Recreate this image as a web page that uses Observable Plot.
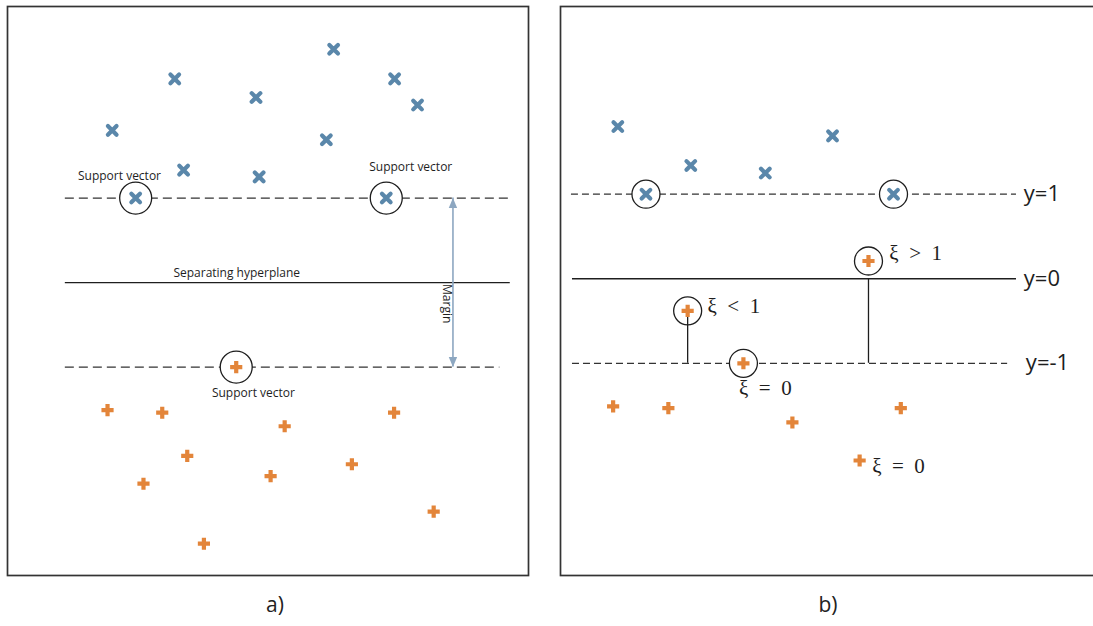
<!DOCTYPE html>
<html>
<head>
<meta charset="utf-8">
<script src="https://cdn.jsdelivr.net/npm/d3@7"></script>
<script src="https://cdn.jsdelivr.net/npm/@observablehq/plot@0.6"></script>
<style>
  html, body { margin: 0; padding: 0; background: #fff; overflow: hidden; }
  #wrap { position: relative; width: 1093px; height: 626px; overflow: hidden; background: #fff; }
  .panel { position: absolute; top: 0; }
  .tag { position: absolute; top: 590px; width: 60px; margin-left: -30px; text-align: center;
         font: 21px/28px "Open Sans", sans-serif; color: #222; }
</style>
</head>
<body>
<div id="wrap"></div>
<script>
// ---------- Panel a: hard-margin SVM ----------
// class +1 samples (blue crosses)
const aBlueX = [3.21, 4.77, 6.26, 7.43, 7.87, 2.01, 3.38, 4.83, 6.12, 2.46, 7.27];
const aBlueY = [2.41, 2.19, 2.76, 2.41, 2.10, 1.80, 1.33, 1.25, 1.69, 1.00, 1.00];
// class -1 samples (orange pluses)
const aOrangeX = [1.92, 2.97, 5.32, 7.42, 3.45, 2.61, 5.05, 6.61, 8.18, 3.77, 4.39];
const aOrangeY = [-1.51, -1.54, -1.70, -1.54, -2.05, -2.38, -2.29, -2.15, -2.71, -3.09, -1.00];
// support vectors (circled)
const aSupportX = [2.46, 7.27, 4.39];
const aSupportY = [1, 1, -1];
// "Support vector" captions
const aCaptionX = [2.15, 7.74, 4.72];
const aCaptionY = [1.26, 1.36, -1.31];
// hyperplane and the two margin boundaries
const aLevels = [1, 0, -1];
const aDashed = [true, false, true];
const aLineFrom = [1.11, 1.11, 1.11];
const aLineTo = [9.65, 9.65, 9.45];
const aMarginX = 8.55;

// ---------- Panel b: soft-margin SVM with slack variables ----------
const bBlueX = [1.10, 2.50, 3.93, 5.22, 1.64, 6.39];
const bBlueY = [1.80, 1.34, 1.25, 1.69, 1.00, 1.00];
const bOrangeX = [1.01, 2.07, 4.45, 6.53, 5.74, 2.44, 5.91, 3.51];
const bOrangeY = [-1.51, -1.53, -1.70, -1.53, -2.15, -0.38, 0.21, -1.00];
const bCircledX = [1.64, 6.39, 2.44, 5.91, 3.51];
const bCircledY = [1, 1, -0.38, 0.21, -1];
const bLevels = [1, 0, -1];
const bDashed = [true, false, true];
const bLineFrom = [0.21, 0.23, 0.23];
const bLineTo = [8.75, 8.75, 8.58];
const bLevelLabels = ["y=1", "y=0", "y=-1"];
const bLevelLabelX = [8.89, 8.89, 8.93];
// slack stems from the y=-1 boundary up to the violating samples
const bStemX = [2.44, 5.91];
const bStemTop = [-0.38, 0];
// slack annotations
const bSlackText = ["ξ\u2002>\u20021", "ξ\u2002<\u20021", "ξ\u2002=\u20020", "ξ\u2002=\u20020"];
const bSlackX = [6.31, 2.82, 3.93, 5.98];
const bSlackY = [0.30, -0.32, -1.29, -2.22];
const bSlackAnchor = ["start", "start", "middle", "start"];

const BLUE = "#5a87aa";
const ORANGE = "#e3853a";
const INK = "#1e1e1e";
const ARROW = "#8da7c1";

const pts = (xs, ys) => xs.map((x, i) => ({x, y: ys[i]}));
const lines = (levels, dashed, from, to) =>
  levels.map((y, i) => ({y, dashed: dashed[i], x1: from[i], x2: to[i]}));

// arrowheads with their tip at the anchor point
const headUp = {draw(ctx) { ctx.moveTo(0, 0); ctx.lineTo(-4.2, 10); ctx.lineTo(4.2, 10); ctx.closePath(); }};
const headDown = {draw(ctx) { ctx.moveTo(0, 0); ctx.lineTo(-4.2, -10); ctx.lineTo(4.2, -10); ctx.closePath(); }};

const labelFont = '"Open Sans", sans-serif';

function boundaryMarks(rows, dash) {
  return [
    Plot.ruleY(rows.filter(d => d.dashed), {y: "y", x1: "x1", x2: "x2", stroke: "#333", strokeWidth: 1.3, strokeDasharray: dash}),
    Plot.ruleY(rows.filter(d => !d.dashed), {y: "y", x1: "x1", x2: "x2", stroke: INK, strokeWidth: 1.3})
  ];
}

function classMarks(blue, orange) {
  return [
    Plot.dot(blue, {x: "x", y: "y", symbol: "times", r: 4, stroke: BLUE, strokeWidth: 4.2, strokeLinecap: "round"}),
    Plot.dot(orange, {x: "x", y: "y", symbol: "plus", r: 4, stroke: ORANGE, strokeWidth: 4.2})
  ];
}

// ----- panel a -----
const aLines = lines(aLevels, aDashed, aLineFrom, aLineTo);
const plotA = Plot.plot({
  width: 540, height: 580,
  marginLeft: 7, marginRight: 12, marginTop: 6, marginBottom: 5,
  x: {domain: [0, 10], axis: null},
  y: {domain: [-3.466, 3.266], axis: null},
  style: {background: "transparent", overflow: "visible"},
  marks: [
    Plot.frame({stroke: "#333", strokeWidth: 1.7}),
    ...boundaryMarks(aLines, "9,5"),
    Plot.ruleX([aMarginX], {y1: -1, y2: 1, stroke: ARROW, strokeWidth: 1.6}),
    Plot.dot([{x: aMarginX, y: 1}], {x: "x", y: "y", symbol: headUp, fill: ARROW, stroke: "none"}),
    Plot.dot([{x: aMarginX, y: -1}], {x: "x", y: "y", symbol: headDown, fill: ARROW, stroke: "none"}),
    Plot.dot(pts(aSupportX, aSupportY), {x: "x", y: "y", r: 16, fill: "#fff", stroke: INK, strokeWidth: 1.3}),
    ...classMarks(pts(aBlueX, aBlueY), pts(aOrangeX, aOrangeY)),
    Plot.text(pts(aCaptionX, aCaptionY), {x: "x", y: "y", text: () => "Support vector",
      fontSize: 12, fontFamily: labelFont, fill: INK}),
    Plot.text([{x: 4.40, y: 0.11}], {x: "x", y: "y", text: () => "Separating hyperplane",
      fontSize: 12, fontFamily: labelFont, fill: INK}),
    Plot.text([{x: 8.44, y: -0.25}], {x: "x", y: "y", text: () => "Margin", rotate: 90,
      fontSize: 12, fontFamily: labelFont, fill: INK})
  ]
});

// ----- panel b -----
const bLines = lines(bLevels, bDashed, bLineFrom, bLineTo);
const slackRows = bSlackText.map((t, i) => ({t, x: bSlackX[i], y: bSlackY[i], a: bSlackAnchor[i]}));
const plotB = Plot.plot({
  width: 570, height: 580,
  marginLeft: 10, marginRight: 5, marginTop: 6, marginBottom: 5,
  x: {domain: [0, 10.65], axis: null},
  y: {domain: [-3.51, 3.22], axis: null},
  style: {background: "transparent", overflow: "visible"},
  marks: [
    Plot.frame({stroke: "#333", strokeWidth: 1.7}),
    ...boundaryMarks(bLines, "7,4"),
    Plot.text(bLevels.map((y, i) => ({y, x: bLevelLabelX[i], t: bLevelLabels[i]})),
      {x: "x", y: "y", text: "t", textAnchor: "start", fontSize: 22, fontFamily: labelFont, fill: INK}),
    Plot.dot(pts(bCircledX, bCircledY), {x: "x", y: "y", r: 14, fill: "#fff", stroke: INK, strokeWidth: 1.3}),
    Plot.ruleX(bStemX.map((x, i) => ({x, top: bStemTop[i]})), {x: "x", y1: -1, y2: "top", stroke: INK, strokeWidth: 1.3}),
    ...classMarks(pts(bBlueX, bBlueY), pts(bOrangeX, bOrangeY)),
    Plot.text(slackRows.filter(d => d.a === "start"),
      {x: "x", y: "y", text: "t", textAnchor: "start", fontSize: 21, fontFamily: '"Liberation Serif", serif', fill: INK}),
    Plot.text(slackRows.filter(d => d.a === "middle"),
      {x: "x", y: "y", text: "t", textAnchor: "middle", fontSize: 21, fontFamily: '"Liberation Serif", serif', fill: INK})
  ]
});

const wrap = document.getElementById("wrap");
plotA.classList.add("panel"); plotA.style.left = "0px";
plotB.classList.add("panel"); plotB.style.left = "550px";
wrap.appendChild(plotA);
wrap.appendChild(plotB);

// panel captions below each frame
for (const [txt, cx] of [["a)", 275], ["b)", 828]]) {
  const d = document.createElement("div");
  d.className = "tag";
  d.style.left = cx + "px";
  d.textContent = txt;
  wrap.appendChild(d);
}
</script>
</body>
</html>
